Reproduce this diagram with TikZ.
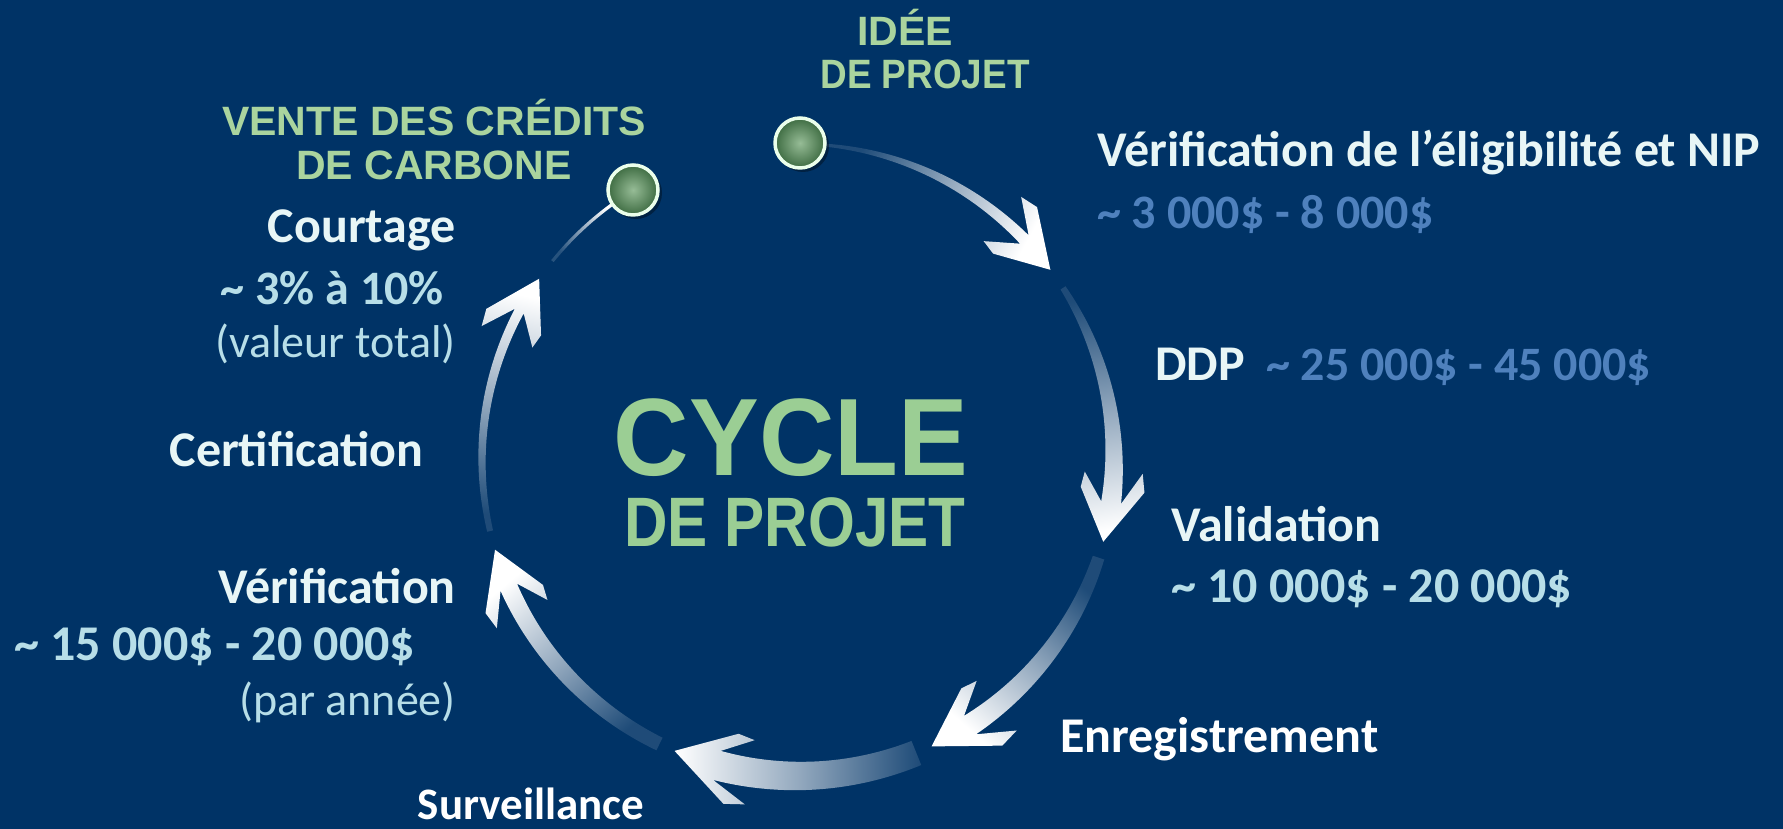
\documentclass[tikz,border=0pt]{standalone}
\usepackage{fontspec}
\setmainfont{Carlito}
\newfontfamily\headfont{Liberation Sans}
\definecolor{bg}{RGB}{0,51,102}
\definecolor{lbl}{RGB}{232,246,246}
\definecolor{aqua}{RGB}{183,222,232}
\definecolor{accblue}{RGB}{79,129,189}
\definecolor{titlegreen}{RGB}{155,206,148}
\definecolor{smallgreen}{RGB}{170,212,158}
\definecolor{dotin}{RGB}{150,188,150}
\definecolor{dotout}{RGB}{62,108,66}
\def\cx{798}
\def\cy{369}
\def\R{316}
% #1 tail angle, #2 tip angle, #3 tail width, #4 neck width, #5 head scale
\newcommand{\cycarrow}[5]{%
  \pgfmathsetmacro{\kk}{57.2958/\R*#5}%
  \pgfmathsetmacro{\aN}{#2+40*\kk}%
  \pgfmathsetmacro{\aO}{#2+53*\kk}%
  \pgfmathsetmacro{\aB}{#2+70*\kk}%
  \pgfmathsetmacro{\hW}{32*#5}%
  \pgfmathsetmacro{\hB}{29*#5}%
  \pgfmathsetmacro{\sa}{(#1+#2)/2}%
  \shade[top color=bg!88!white, bottom color=white, middle color=bg!42!white, shading angle=\sa]
    plot[domain=#1:\aN, samples=40]
      ({\cx+(\R+(#3+(#4-#3)*(\x-(#1))/(\aN-(#1)))/2)*cos(\x)},
       {\cy+(\R+(#3+(#4-#3)*(\x-(#1))/(\aN-(#1)))/2)*sin(\x)})
    -- ({\cx+(\R+\hB)*cos(\aB)}, {\cy+(\R+\hB)*sin(\aB)})
    -- ({\cx+(\R+\hW)*cos(\aO)}, {\cy+(\R+\hW)*sin(\aO)})
    -- ({\cx+\R*cos(#2)}, {\cy+\R*sin(#2)})
    -- ({\cx+(\R-\hW)*cos(\aO)}, {\cy+(\R-\hW)*sin(\aO)})
    -- ({\cx+(\R-\hB)*cos(\aB)}, {\cy+(\R-\hB)*sin(\aB)})
    -- plot[domain=\aN:#1, samples=40]
      ({\cx+(\R-(#3+(#4-#3)*(\x-(#1))/(\aN-(#1)))/2)*cos(\x)},
       {\cy+(\R-(#3+(#4-#3)*(\x-(#1))/(\aN-(#1)))/2)*sin(\x)})
    -- cycle;
}
\tikzset{
  bold50/.style={font=\fontsize{50}{60}\selectfont\bfseries, inner sep=0pt},
  bold48/.style={font=\fontsize{48}{58}\selectfont\bfseries, inner sep=0pt},
  reg46/.style={font=\fontsize{46}{56}\selectfont, inner sep=0pt},
  smallhead/.style={font=\headfont\bfseries\fontsize{41}{48}\selectfont, text=smallgreen, inner sep=0pt, anchor=base},
  dot/.style={circle, minimum size=50pt, inner sep=0pt, draw=white!92!green, line width=3.5pt,
    inner color=dotin, outer color=dotout},
}
\begin{document}
\begin{tikzpicture}[x=1pt,y=1pt]
\useasboundingbox (0,0) rectangle (1783,829);
\fill[bg] (0,0) rectangle (1783,829);

% arrows around the cycle
\cycarrow{85}{37}{3}{12}{1.0}
\cycarrow{33}{-15}{6}{20}{1.0}
\cycarrow{-18}{-65}{12}{22}{1.1}
\cycarrow{-68}{-113}{26}{30}{1.12}
\cycarrow{-116}{-163.5}{14}{18}{1.0}
\cycarrow{-167}{-215}{6}{10}{0.95}

% thin link to the last dot
\shade[top color=bg!85!white, bottom color=white, shading angle=133]
  plot[domain=141:125, samples=20] ({\cx+(\R+1.6)*cos(\x)}, {\cy+(\R+1.6)*sin(\x)})
  -- plot[domain=125:141, samples=20] ({\cx+(\R-1.6)*cos(\x)}, {\cy+(\R-1.6)*sin(\x)})
  -- cycle;

% dots
\fill[black, opacity=0.35] (803,683) circle (26);
\fill[black, opacity=0.35] (636,636) circle (26);
\node[dot] (idee) at (800,686) {};
\node[dot] (vente) at (633,639) {};

% green headings
\node[smallhead] (t1) at (905,783) {IDÉE};
\node[smallhead] (t2) at (925,740) {\scalebox{0.9}[1]{DE PROJET}};
\node[smallhead] (t3) at (434,693) {VENTE DES CRÉDITS};
\node[smallhead] (t4) at (434,649) {DE CARBONE};
\node[font=\headfont\bfseries\fontsize{110}{120}\selectfont, text=titlegreen, inner sep=0pt, anchor=base] (cyc) at (791,353) {\scalebox{0.95}[1]{CYCLE}};
\node[font=\headfont\bfseries\fontsize{70}{80}\selectfont, text=titlegreen, inner sep=0pt, anchor=base] (dep) at (795,282) {\scalebox{0.86}[1]{DE PROJET}};

% right labels
\node[bold50, text=lbl, anchor=base west] (nip) at (1097,662) {Vérification de l’éligibilité et NIP};
\node[bold48, text=accblue, anchor=base west] (nipv) at (1097,600) {\textasciitilde{} 3 000\$ - 8 000\$};
\node[bold50, text=lbl, anchor=base west] (ddp) at (1155,448) {DDP};
\node[bold48, text=accblue, anchor=base west] (ddpv) at (1266,448) {\textasciitilde{} 25 000\$ - 45 000\$};
\node[bold50, text=lbl, anchor=base west] (val) at (1171,287) {Validation};
\node[bold50, text=aqua, anchor=base west] (valv) at (1171,226) {\textasciitilde{} 10 000\$ - 20 000\$};
\node[bold50, text=white, anchor=base west] (enr) at (1060,76) {Enregistrement};
\node[font=\fontsize{45}{54}\selectfont\bfseries, inner sep=0pt, text=white, anchor=base] (sur) at (531,9) {Surveillance};

% left labels
\node[bold50, text=lbl, anchor=base east] (cou) at (456,586) {Courtage};
\node[bold48, text=aqua, anchor=base east] (couv) at (444,524) {\textasciitilde{} 3\% à 10\%};
\node[reg46, text=aqua, anchor=base east] (coun) at (456,471) {(valeur total)};
\node[bold50, text=lbl, anchor=base east] (cer) at (424,362) {Certification};
\node[bold50, text=lbl, anchor=base east] (ver) at (456,225) {Vérification};
\node[bold50, text=aqua, anchor=base west] (verv) at (14,168) {\textasciitilde{} 15 000\$ - 20 000\$};
\node[reg46, text=aqua, anchor=base east] (vern) at (456,113) {(par année)};
\end{tikzpicture}
\end{document}
